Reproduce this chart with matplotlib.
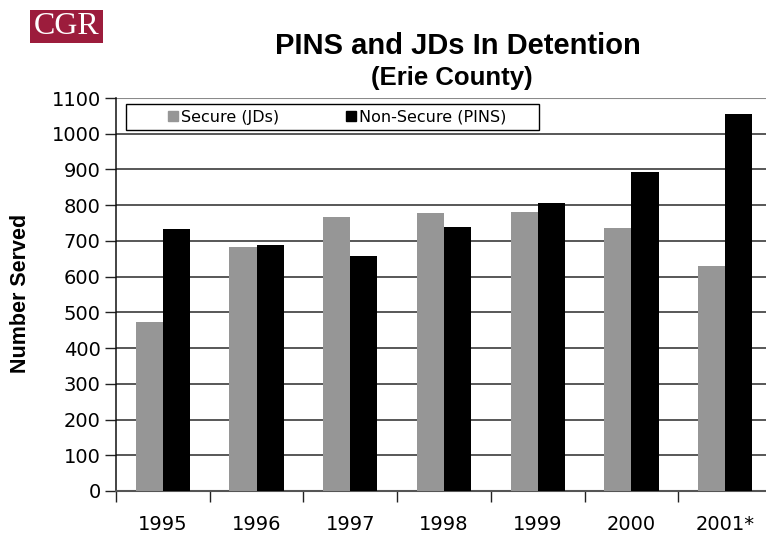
import matplotlib
matplotlib.use("Agg")
import matplotlib.pyplot as plt
import numpy as np
from matplotlib.lines import Line2D
from matplotlib.patches import Rectangle

years = ["1995", "1996", "1997", "1998", "1999", "2000", "2001*"]
secure_jds = [474, 684, 766, 778, 782, 737, 631]
nonsecure_pins = [734, 688, 657, 738, 806, 892, 1054]
y_ticks = list(range(0, 1101, 100))

W, H = 766, 533
fig = plt.figure(figsize=(W / 100, H / 100), dpi=100)
ax = fig.add_axes([116 / W, 42 / H, 656 / W, 393 / H])

x = np.arange(len(years))
w = 0.29
ax.bar(x - w / 2, secure_jds, width=w, color="#969696", edgecolor="none", zorder=3)
ax.bar(x + w / 2, nonsecure_pins, width=w, color="#000000", edgecolor="none", zorder=3)

ax.set_xlim(-0.5, len(years) - 0.5)
ax.set_ylim(0, 1100)
ax.set_yticks(y_ticks)
ax.set_yticklabels([str(v) for v in y_ticks], fontsize=14, family="DejaVu Sans")
ax.tick_params(axis="y", length=8, width=1, pad=3, color="#222222")

# category boundaries carry tick marks, centers carry the labels
ax.set_xticks(np.arange(-0.5, len(years) + 0.5, 1.0))
ax.set_xticklabels([])
ax.set_xticks(x, minor=True)
ax.set_xticklabels(years, minor=True, fontsize=14, family="DejaVu Sans")
ax.tick_params(axis="x", which="major", length=8, width=1, color="#222222")
ax.tick_params(axis="x", which="minor", length=0, pad=17)

for v in y_ticks[1:-1]:
    ax.axhline(v, color="#2a2a2a", lw=1.1, zorder=1)
ax.axhline(1100, color="#8a8a8a", lw=1.5, zorder=1)

for s in ["top", "right"]:
    ax.spines[s].set_visible(False)
ax.spines["left"].set_color("#111111")
ax.spines["left"].set_linewidth(1.1)
ax.spines["bottom"].set_color("#555555")
ax.spines["bottom"].set_linewidth(1.5)

fig.text(21 / W, 1 - 293 / H, "Number Served", rotation=90, ha="center",
         va="center", fontsize=15.5, fontweight="bold", family="Liberation Sans")

# legend box
fig.patches.append(Rectangle((126 / W, 1 - 130 / H), 413 / W, 26 / H,
                             transform=fig.transFigure, facecolor="white",
                             edgecolor="black", lw=1.0, zorder=5))
handles = [
    Line2D([], [], marker="s", ls="none", color="#969696", markersize=7.5),
    Line2D([], [], marker="s", ls="none", color="#000000", markersize=7.5),
]
leg = fig.legend(handles, ["Secure (JDs)", "Non-Secure (PINS)"], ncol=2,
                 loc="center", bbox_to_anchor=(336 / W, 1 - 117.5 / H),
                 frameon=False, borderaxespad=0, borderpad=0,
                 prop={"family": "DejaVu Sans", "size": 11.5},
                 handletextpad=0.05, handlelength=0.9, columnspacing=4.1)
leg.set_zorder(6)

fig.text(458 / W, 1 - 46 / H, "PINS and JDs In Detention", ha="center",
         va="center", fontsize=21, fontweight="bold", family="Liberation Sans")
fig.text(452 / W, 1 - 78 / H, "(Erie County)", ha="center", va="center",
         fontsize=18.5, fontweight="bold", family="Liberation Sans")

# CGR badge
fig.patches.append(Rectangle((30 / W, 1 - 43 / H), 73 / W, 33 / H,
                             transform=fig.transFigure, facecolor="#9c1c3c",
                             edgecolor="none"))
fig.text(66.5 / W, 1 - 27 / H, "CGR", ha="center", va="center",
         fontsize=23, color="white", family="Liberation Serif")

fig.savefig("out.png", dpi=100)
